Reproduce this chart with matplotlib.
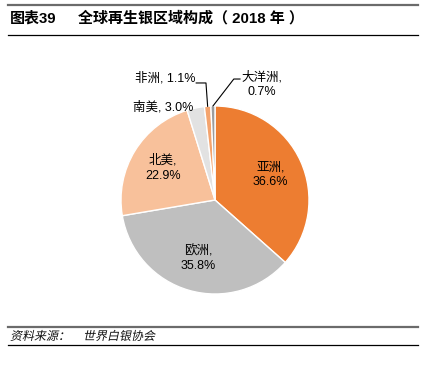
import numpy as np
import matplotlib
matplotlib.use('Agg')
import matplotlib.pyplot as plt
from matplotlib.lines import Line2D
from matplotlib.textpath import TextPath
from matplotlib.patches import PathPatch
from matplotlib.font_manager import FontProperties
from matplotlib.transforms import Affine2D

plt.rcParams['font.family'] = ['Liberation Sans', 'Noto Sans CJK SC', 'DejaVu Sans']

regions = ['亚洲', '欧洲', '北美', '南美', '非洲', '大洋洲']
shares = [36.6, 35.8, 22.9, 3.0, 1.1, 0.7]
colors = ['#ED7D31', '#BFBFBF', '#F8C19B', '#E2E2E2', '#F4A46E', '#9C9C9C']

fig = plt.figure(figsize=(4.25, 3.74), dpi=100)

# header / footer rules
W, H = 425, 374
def hline(y, color, lw):
    fig.add_artist(Line2D([8 / W, 418 / W], [1 - y / H, 1 - y / H], color=color, lw=lw))
hline(5, '#6b6b6b', 1.6)
hline(35, 'black', 0.9)
hline(327, '#6b6b6b', 1.6)
hline(345, 'black', 0.9)

fig.text(10 / W, 1 - 18 / H, '图表39', fontsize=10.8, fontweight='bold', va='center')
fig.text(78 / W, 1 - 18 / H, '全球再生银区域构成（ 2018 年 ）', fontsize=10.8, fontweight='bold', va='center')

# slanted footer (CJK font has no italic face), drawn in pixel coords
fp = FontProperties(family='Noto Sans CJK SC', size=12)
for s, x in [('资料来源：', 10), ('世界白银协会', 83)]:
    tp = TextPath((0, 0), s, prop=fp)
    path = Affine2D().skew_deg(12, 0).translate(x, H - 340).transform_path(tp)
    fig.add_artist(PathPatch(path, facecolor='#111111', edgecolor='none', transform=None))

ax = fig.add_axes([121 / W, 80 / H, 188 / W, 188 / H])
wedges, _ = ax.pie(shares, colors=colors, startangle=90, counterclock=False,
                   wedgeprops=dict(edgecolor='white', linewidth=1.0))
ax.set_xlim(-1, 1)
ax.set_ylim(-1, 1)
ax.set_aspect('equal')
ax.axis('off')

def mid(w):
    a = np.deg2rad((w.theta1 + w.theta2) / 2)
    return np.cos(a), np.sin(a)

# inside labels
for i in range(3):
    x, y = mid(wedges[i])
    ax.text(0.65 * x, 0.65 * y, f'{regions[i]},\n{shares[i]:.1f}%', ha='center', va='center',
            fontsize=9, linespacing=1.3)

# South America
ax.text(-0.23, 0.99, f'{regions[3]}, {shares[3]:.1f}%', ha='right', va='center', fontsize=9)

# Africa with leader
x, y = mid(wedges[4])
ax.plot([x, -0.096, -0.20], [y, 1.245, 1.245], color='black', lw=0.8, clip_on=False)
ax.text(-0.21, 1.30, f'{regions[4]}, {shares[4]:.1f}%', ha='right', va='center', fontsize=9)

# Oceania with leader
x, y = mid(wedges[5])
ax.plot([x, 0.20, 0.266], [y, 1.287, 1.287], color='black', lw=0.8, clip_on=False)
ax.text(0.50, 1.23, f'{regions[5]},\n{shares[5]:.1f}%', ha='center', va='center',
        fontsize=9, linespacing=1.3)

fig.savefig('out.png', dpi=100)
